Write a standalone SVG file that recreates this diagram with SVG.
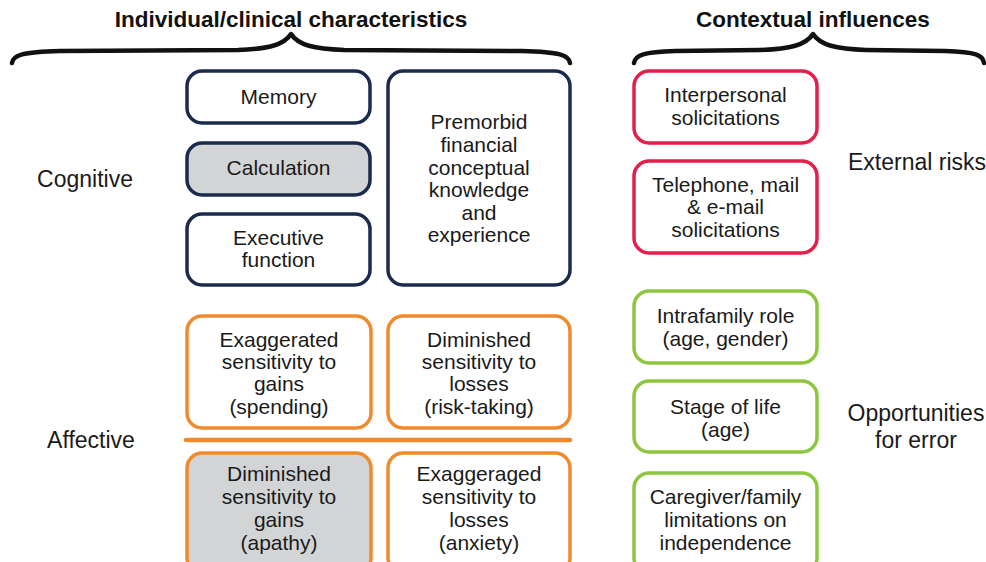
<svg xmlns="http://www.w3.org/2000/svg" width="986" height="562" viewBox="0 0 986 562">
  <style>
    text { font-family: "Liberation Sans", Arial, sans-serif; font-size: 21px; fill: #1a1a1a; text-anchor: middle; }
    .hdr { font-weight: bold; font-size: 22.5px; fill: #111; }
    .side { font-size: 23px; }
    .box { stroke-width: 3.5; fill: #ffffff; }
    .navy { stroke: #1b2b4e; }
    .orange { stroke: #f08a2c; }
    .red { stroke: #e41f4b; }
    .green { stroke: #8dc63f; }
    .gray { fill: #d2d4d5; }
    .brace { fill: none; stroke: #111; stroke-width: 4.5; stroke-linecap: round; stroke-linejoin: round; }
  </style>

  <rect width="986" height="562" fill="#ffffff"/>

  <!-- Section headers with braces -->
  <g id="header-individual">
    <text class="hdr" x="291" y="27">Individual/clinical characteristics</text>
    <path class="brace" d="M12,63 C13,55 22,52 60,51 L238,50 C268,49 284,45 291,34 C298,45 314,49 344,50 L522,51 C560,52 569,55 570,63"/>
  </g>
  <g id="header-contextual">
    <text class="hdr" x="813" y="27">Contextual influences</text>
    <path class="brace" d="M634,63 C635,55 644,52 675,51 L760,50 C790,49 806,45 813,34 C820,45 836,49 866,50 L945,51 C976,52 983,55 984,63"/>
  </g>

  <!-- Row labels -->
  <g id="label-cognitive"><text class="side" x="85" y="187">Cognitive</text></g>
  <g id="label-affective"><text class="side" x="91" y="448">Affective</text></g>
  <g id="label-external"><text class="side" x="917" y="170">External risks</text></g>
  <g id="label-opportunities">
    <text class="side" x="916" y="421">Opportunities</text>
    <text class="side" x="916" y="448">for error</text>
  </g>

  <!-- Cognitive characteristics -->
  <g id="memory">
    <rect class="box navy" x="187" y="71" width="183" height="52" rx="15"/>
    <text x="278.5" y="104">Memory</text>
  </g>
  <g id="calculation">
    <rect class="box navy gray" x="187" y="143" width="183" height="52" rx="15"/>
    <text x="278.5" y="175">Calculation</text>
  </g>
  <g id="executive-function">
    <rect class="box navy" x="187" y="214" width="183" height="71" rx="15"/>
    <text x="278.5" y="245">Executive</text>
    <text x="278.5" y="267">function</text>
  </g>
  <g id="premorbid">
    <rect class="box navy" x="388" y="71" width="182" height="214" rx="15"/>
    <text x="479" y="129">Premorbid</text>
    <text x="479" y="152">financial</text>
    <text x="479" y="175">conceptual</text>
    <text x="479" y="197">knowledge</text>
    <text x="479" y="220">and</text>
    <text x="479" y="242">experience</text>
  </g>

  <!-- Affective characteristics -->
  <g id="exaggerated-gains">
    <rect class="box orange" x="187" y="316" width="184" height="112" rx="15"/>
    <text x="279" y="347">Exaggerated</text>
    <text x="279" y="369">sensitivity to</text>
    <text x="279" y="391">gains</text>
    <text x="279" y="414">(spending)</text>
  </g>
  <g id="diminished-losses">
    <rect class="box orange" x="388" y="316" width="182" height="112" rx="15"/>
    <text x="479" y="347">Diminished</text>
    <text x="479" y="369">sensitivity to</text>
    <text x="479" y="391">losses</text>
    <text x="479" y="414">(risk-taking)</text>
  </g>
  <g id="divider">
    <line x1="186" y1="440" x2="570" y2="440" stroke="#f08a2c" stroke-width="4.5" stroke-linecap="round"/>
  </g>
  <g id="diminished-gains">
    <rect class="box orange gray" x="187" y="453" width="184" height="120" rx="15"/>
    <text x="279" y="481">Diminished</text>
    <text x="279" y="504">sensitivity to</text>
    <text x="279" y="527">gains</text>
    <text x="279" y="550">(apathy)</text>
  </g>
  <g id="exaggerated-losses">
    <rect class="box orange" x="388" y="453" width="182" height="120" rx="15"/>
    <text x="479" y="481">Exaggeraged</text>
    <text x="479" y="504">sensitivity to</text>
    <text x="479" y="527">losses</text>
    <text x="479" y="550">(anxiety)</text>
  </g>

  <!-- External risks -->
  <g id="interpersonal">
    <rect class="box red" x="634" y="71" width="183" height="72" rx="15"/>
    <text x="725.5" y="102">Interpersonal</text>
    <text x="725.5" y="125">solicitations</text>
  </g>
  <g id="telephone">
    <rect class="box red" x="634" y="161" width="183" height="92" rx="15"/>
    <text x="725.5" y="192">Telephone, mail</text>
    <text x="725.5" y="214">&amp; e-mail</text>
    <text x="725.5" y="237">solicitations</text>
  </g>

  <!-- Opportunities for error -->
  <g id="intrafamily">
    <rect class="box green" x="634" y="291" width="183" height="72" rx="15"/>
    <text x="725.5" y="323">Intrafamily role</text>
    <text x="725.5" y="346">(age, gender)</text>
  </g>
  <g id="stage-of-life">
    <rect class="box green" x="634" y="381" width="183" height="71" rx="15"/>
    <text x="725.5" y="414">Stage of life</text>
    <text x="725.5" y="437">(age)</text>
  </g>
  <g id="caregiver">
    <rect class="box green" x="634" y="473" width="183" height="100" rx="15"/>
    <text x="725.5" y="504">Caregiver/family</text>
    <text x="725.5" y="527">limitations on</text>
    <text x="725.5" y="550">independence</text>
  </g>

  <!-- no connectors in this figure -->
  <g id="connectors"/>
</svg>
